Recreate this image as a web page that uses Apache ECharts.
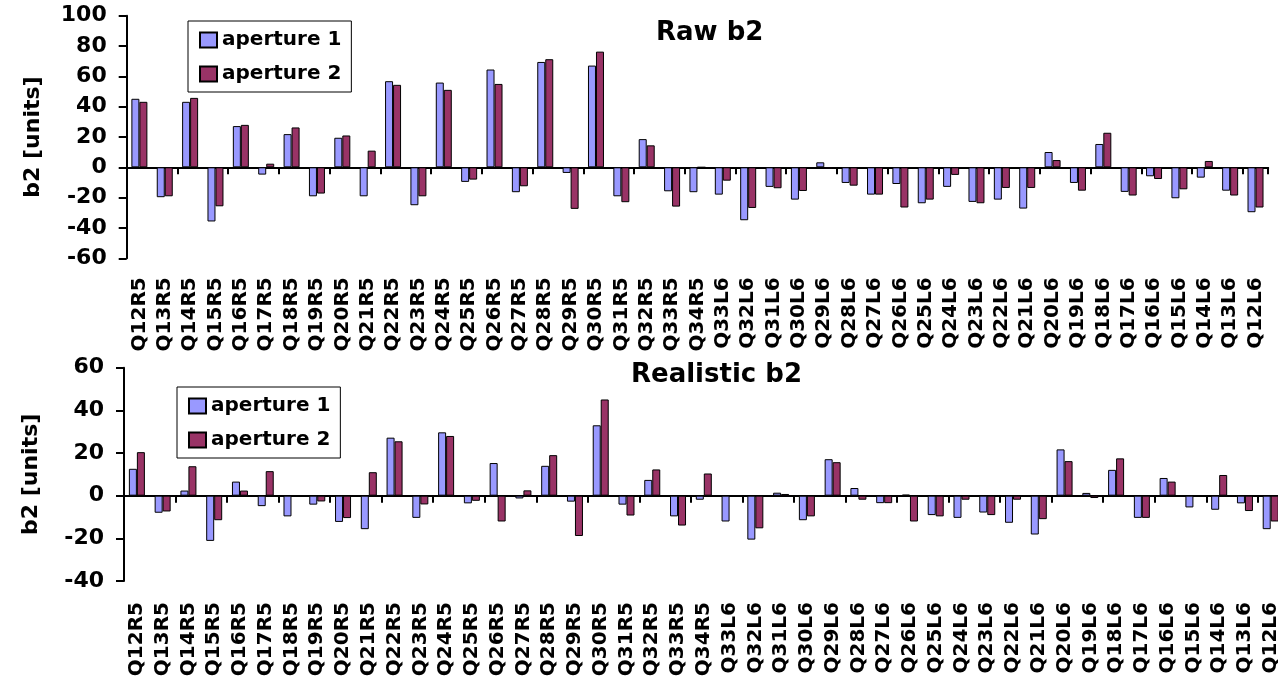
<!DOCTYPE html>
<html>
<head>
<meta charset="utf-8">
<script src="https://cdn.jsdelivr.net/npm/echarts@6/dist/echarts.min.js"></script>
<style>
    html, body { margin: 0; padding: 0; background: #fff; }
    #main { width: 1278px; height: 690px; }
</style>
</head>
<body>
<div id="main"></div>
<script type="text/javascript">
    // 磁铁名称
    const magnets = ['Q12R5','Q13R5','Q14R5','Q15R5','Q16R5','Q17R5','Q18R5','Q19R5','Q20R5','Q21R5','Q22R5','Q23R5',
        'Q24R5','Q25R5','Q26R5','Q27R5','Q28R5','Q29R5','Q30R5','Q31R5','Q32R5','Q33R5','Q34R5',
        'Q33L6','Q32L6','Q31L6','Q30L6','Q29L6','Q28L6','Q27L6','Q26L6','Q25L6','Q24L6','Q23L6','Q22L6',
        'Q21L6','Q20L6','Q19L6','Q18L6','Q17L6','Q16L6','Q15L6','Q14L6','Q13L6','Q12L6'];

    // Raw b2
    const rawAp1 = [45.2,-19.7,43.2,-35.7,27.2,-4.8,21.9,-19.1,19.5,-19.1,56.8,-25,
        55.9,-9.6,64.5,-16.4,69.5,-3.7,67.1,-19.1,18.6,-15.8,-16.4,
        -18,-34.9,-12.9,-21.3,3.3,-10.3,-18,-11,-23.7,-12.9,-22.8,-21.3,
        -27.2,10.1,-10.3,15.4,-16.2,-5.9,-20.4,-6.8,-15.4,-29.6];
    const rawAp2 = [43.2,-19.1,45.8,-25.7,28,2.4,26.3,-17.3,21,11,54.4,-19.1,
        51.1,-8.1,55,-12.5,71.3,-27.4,76.3,-23,14.5,-25.9,0,
        -8.8,-26.8,-13.8,-15.6,-1,-12.1,-18,-26.5,-21.3,-5,-23.7,-13.6,
        -13.6,4.8,-15.4,22.8,-18.6,-7.7,-14.5,4.2,-18.6,-26.5];

    // Realistic b2
    const realAp1 = [12.6,-8,2.4,-21.2,6.6,-4.9,-9.7,-4.2,-12.3,-15.7,27.2,-10.4,
        29.7,-3.6,15.3,-1.3,14,-2.8,33,-4.2,7.4,-9.7,-1.9,
        -12.1,-20.6,1.4,-11.5,17.1,3.6,-3.5,0.5,-9.1,-10.4,-7.9,-12.7,
        -18.2,21.7,1.3,12.1,-10.4,8.3,-5.5,-6.6,-3.6,-15.7];
    const realAp2 = [20.4,-7.4,13.8,-11.5,2.4,11.5,0,-2.7,-10.5,11,25.5,-4.1,
        28,-2.4,-12.1,2.5,19,-18.9,45.1,-9.3,12.3,-14,10.4,
        0,-15.3,0.8,-9.7,15.7,-1.9,-3.5,-12.1,-9.7,-1.9,-9.1,-1.9,
        -11,16.2,-1.1,17.5,-10.4,6.6,0,9.7,-7.2,-12.1];

    const font = 'DejaVu Sans';
    const blue = '#9999FF';
    const red = '#993366';

    function xAxes(gridIndex, labelMargin) {
        return [{
            // 零线 + 刻度
            type: 'category', gridIndex: gridIndex, data: magnets, position: 'bottom',
            axisLine: { onZero: true, lineStyle: { color: '#000', width: 2 } },
            axisTick: { show: true, length: 7, lineStyle: { color: '#000', width: 2 } },
            axisLabel: { show: false },
            splitLine: { show: false }
        }, {
            // 底部标签
            type: 'category', gridIndex: gridIndex, data: magnets, position: 'bottom',
            axisLine: { show: false, onZero: false },
            axisTick: { show: false },
            axisLabel: {
                rotate: 90, interval: 0, margin: labelMargin,
                fontFamily: font, fontWeight: 'bold', fontSize: 20, color: '#000'
            },
            splitLine: { show: false }
        }];
    }

    function yAxis(gridIndex, min, max) {
        return {
            type: 'value', gridIndex: gridIndex, min: min, max: max, interval: 20,
            name: 'b2 [units]', nameLocation: 'middle', nameRotate: 90, nameGap: 82,
            nameTextStyle: { fontFamily: font, fontWeight: 'bold', fontSize: 22, color: '#000' },
            axisLine: { show: true, lineStyle: { color: '#000', width: 2 } },
            axisTick: { show: true, length: 8, lineStyle: { color: '#000', width: 2 } },
            axisLabel: { margin: 20, fontFamily: font, fontWeight: 'bold', fontSize: 22, color: '#000' },
            splitLine: { show: false }
        };
    }

    function barSeries(name, data, color, xi, yi) {
        return {
            name: name, type: 'bar', xAxisIndex: xi, yAxisIndex: yi, data: data,
            barWidth: 8, barGap: '0%',
            itemStyle: { color: color, borderColor: '#000', borderWidth: 1 },
            animation: false
        };
    }

    function legend(left, top) {
        return {
            orient: 'vertical', left: left, top: top,
            data: ['aperture 1', 'aperture 2'],
            backgroundColor: '#fff', borderColor: '#000', borderWidth: 1,
            padding: [9, 10, 8, 11], itemGap: 14, itemWidth: 17, itemHeight: 15,
            icon: 'rect',
            textStyle: { fontFamily: font, fontWeight: 'bold', fontSize: 20, color: '#000' }
        };
    }

    const myChart = echarts.init(document.getElementById('main'));
    const option = {
        backgroundColor: '#fff',
        animation: false,
        title: [
            { text: 'Raw b2', left: 656, top: 20, padding: 0,
              textStyle: { fontFamily: font, fontWeight: 'bold', fontSize: 26, color: '#000' } },
            { text: 'Realistic b2', left: 631, top: 362, padding: 0,
              textStyle: { fontFamily: font, fontWeight: 'bold', fontSize: 26, color: '#000' } }
        ],
        legend: [legend(188, 21), legend(177, 387)],
        grid: [
            { left: 126.7, top: 15.7, width: 1141.5, height: 242.6, outerBoundsMode: 'none' },
            { left: 124, top: 367.7, width: 1159.6, height: 213.3, outerBoundsMode: 'none' }
        ],
        xAxis: xAxes(0, 19).concat(xAxes(1, 21)),
        yAxis: [yAxis(0, -60, 100), yAxis(1, -40, 60)],
        series: [
            barSeries('aperture 1', rawAp1, blue, 0, 0),
            barSeries('aperture 2', rawAp2, red, 0, 0),
            barSeries('aperture 1', realAp1, blue, 2, 1),
            barSeries('aperture 2', realAp2, red, 2, 1)
        ]
    };
    myChart.setOption(option);
</script>
</body>
</html>
